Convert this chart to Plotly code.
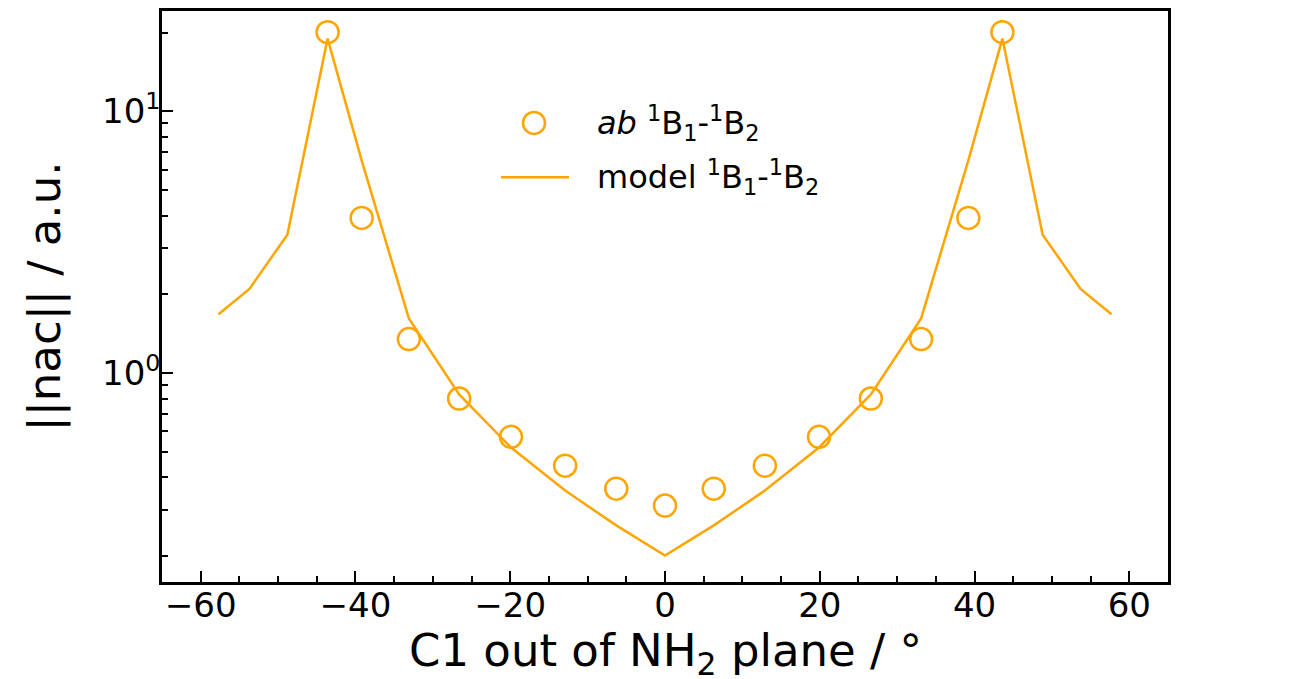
import plotly.graph_objects as go

# ab initio data
ab_x = [-43.6, -39.2, -33.1, -26.6, -19.9, -12.9, -6.3, 0.0, 6.3, 12.9, 19.9, 26.6, 33.1, 39.2, 43.6]
ab_y = [20.1, 3.92, 1.35, 0.80, 0.571, 0.443, 0.362, 0.312, 0.362, 0.443, 0.571, 0.80, 1.35, 3.92, 20.1]

# model curve
model_x = [-57.7, -53.7, -48.8, -43.6, -39.2, -33.1, -26.6, -19.9, -12.9, -6.3, 0.0,
           6.3, 12.9, 19.9, 26.6, 33.1, 39.2, 43.6, 48.8, 53.7, 57.7]
model_y = [1.68, 2.10, 3.38, 19.0, 6.5, 1.62, 0.83, 0.52, 0.356, 0.262, 0.201,
           0.262, 0.356, 0.52, 0.83, 1.62, 6.5, 19.0, 3.38, 2.10, 1.68]

x_ticks = [-60, -40, -20, 0, 20, 40, 60]
x_ticklabels = ["\u221260", "\u221240", "\u221220", "0", "20", "40", "60"]
y_ticks = [1, 10]
y_ticklabels = ["10<sup>0</sup>", "10<sup>1</sup>"]
y_minor = [0.2, 0.3, 0.4, 0.5, 0.6, 0.7, 0.8, 0.9, 2, 3, 4, 5, 6, 7, 8, 9, 20]

ab_label = "<i>ab</i> <sup>1</sup>B<sub>1</sub>-<sup>1</sup>B<sub>2</sub>"
model_label = "model <sup>1</sup>B<sub>1</sub>-<sup>1</sup>B<sub>2</sub>"
x_title = "C1 out of NH<sub>2</sub> plane / \u00b0"
y_title = "||nac|| / a.u."

orange = "#FFA500"
font = "DejaVu Sans"

fig = go.Figure()
fig.add_trace(go.Scatter(
    x=ab_x, y=ab_y, mode="markers", name=ab_label, showlegend=False,
    marker=dict(symbol="circle-open", size=22, color=orange, line=dict(width=2.5, color=orange)),
))
fig.add_trace(go.Scatter(
    x=model_x, y=model_y, mode="lines", name=model_label, showlegend=False,
    line=dict(color=orange, width=2.5),
))

# legend (drawn manually to match marker size)
fig.add_shape(type="circle", xref="paper", yref="paper", xsizemode="pixel", ysizemode="pixel",
              xanchor=0.3698, yanchor=0.8040, x0=-11, x1=11, y0=-11, y1=11,
              line=dict(color=orange, width=2.5))
fig.add_shape(type="line", xref="paper", yref="paper", x0=0.3370, x1=0.4046, y0=0.7090, y1=0.7090,
              line=dict(color=orange, width=2.5))
fig.add_annotation(xref="paper", yref="paper", x=0.4300, y=0.8040, xanchor="left", yanchor="middle",
                   text=ab_label, showarrow=False, font=dict(size=32))
fig.add_annotation(xref="paper", yref="paper", x=0.4300, y=0.7090, xanchor="left", yanchor="middle",
                   text=model_label, showarrow=False, font=dict(size=32))

# x-axis title placed as an annotation below the tick labels
fig.add_annotation(xref="paper", yref="paper", x=0.5, y=0, xanchor="center", yanchor="middle",
                   yshift=-71, text=x_title, showarrow=False, font=dict(size=45))

fig.update_layout(
    width=1291, height=671,
    margin=dict(l=154, r=131, t=0, b=97),
    plot_bgcolor="white", paper_bgcolor="white",
    font=dict(family=font, size=32, color="black"),
    showlegend=False,
    xaxis=dict(
        range=[-65, 65], tickvals=x_ticks, ticktext=x_ticklabels,
        ticks="inside", ticklen=11, tickwidth=2, tickcolor="black",
        showline=True, linewidth=2.5, linecolor="black", mirror=True,
        showgrid=False, zeroline=False, ticklabelstandoff=-9,
        minor=dict(ticks="inside", ticklen=6, tickwidth=2, tickcolor="black", dtick=5, showgrid=False),
        tickfont=dict(size=34),
    ),
    yaxis=dict(
        type="log", range=[-0.798, 1.384], tickvals=y_ticks, ticktext=y_ticklabels,
        ticks="inside", ticklen=11, tickwidth=2, tickcolor="black",
        showline=True, linewidth=2.5, linecolor="black", mirror=True,
        showgrid=False, zeroline=False, ticklabelstandoff=-8,
        minor=dict(ticks="inside", ticklen=6, tickwidth=2, tickcolor="black",
                   tickmode="array", tickvals=y_minor, showgrid=False),
        title=dict(text=y_title, font=dict(size=45), standoff=28),
        tickfont=dict(size=34),
    ),
)

fig.write_html("out.html")
